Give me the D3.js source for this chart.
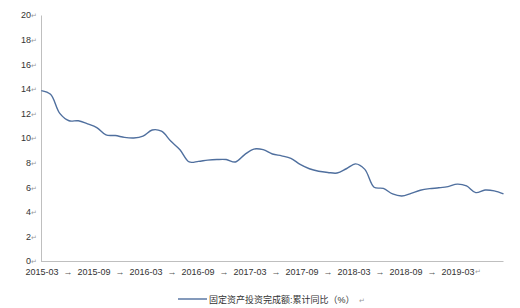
<!DOCTYPE html>
<html>
<head>
<meta charset="utf-8">
<script src="https://cdn.jsdelivr.net/npm/d3@7"></script>
<style>
body { margin: 0; background: #fff; }
text { font-family: "Liberation Sans", Arial, "Noto Sans CJK SC", sans-serif; }
</style>
</head>
<body>
<div id="chart"></div>
<script>
const svgWidth = 520, svgHeight = 308;

// months (Jan is merged into Feb in the source data)
const months = [
  "2015-02","2015-03","2015-04","2015-05","2015-06","2015-07","2015-08","2015-09","2015-10","2015-11","2015-12",
  "2016-02","2016-03","2016-04","2016-05","2016-06","2016-07","2016-08","2016-09","2016-10","2016-11","2016-12",
  "2017-02","2017-03","2017-04","2017-05","2017-06","2017-07","2017-08","2017-09","2017-10","2017-11","2017-12",
  "2018-02","2018-03","2018-04","2018-05","2018-06","2018-07","2018-08","2018-09","2018-10","2018-11","2018-12",
  "2019-02","2019-03","2019-04","2019-05","2019-06","2019-07","2019-08"
];
const growth = [
  13.85, 13.55, 12.0, 11.4, 11.4, 11.15, 10.85, 10.25, 10.2, 10.05, 10.0,
  10.15, 10.65, 10.55, 9.75, 9.05, 8.05, 8.1, 8.2, 8.25, 8.25, 8.05,
  8.65, 9.1, 9.05, 8.7, 8.55, 8.35, 7.85, 7.5, 7.3, 7.2, 7.15,
  7.5, 7.9, 7.45, 6.0, 5.9, 5.45, 5.28, 5.5, 5.75, 5.88, 5.95,
  6.05, 6.25, 6.1, 5.56, 5.77, 5.7, 5.45
];
const yTicks = [0, 2, 4, 6, 8, 10, 12, 14, 16, 18, 20];
const xLabels = ["2015-03","2015-09","2016-03","2016-09","2017-03","2017-09","2018-03","2018-09","2019-03"];
const seriesName = "固定资产投资完成额:累计同比（%）";

const svg = d3.select("#chart").append("svg")
  .attr("width", svgWidth)
  .attr("height", svgHeight);

const x = d3.scalePoint().domain(months).range([41.3, 503.5]);
const y = d3.scaleLinear().domain([0, 20]).range([261, 15]);

// y axis
const yAxis = svg.append("g")
  .attr("transform", "translate(41,0)")
  .call(d3.axisLeft(y).tickValues(yTicks).tickSize(0).tickPadding(11).tickFormat(d => d));
yAxis.select(".domain").attr("stroke", "#bfbfbf");
yAxis.selectAll(".tick text")
  .attr("fill", "#333")
  .attr("font-size", 9)
  .each(function() {
    d3.select(this).append("tspan").attr("fill", "#9a9a9a").attr("font-size", 7).text("↵");
  });
yAxis.selectAll(".tick text").attr("x", -4);

// x axis line
const xAxis = svg.append("g")
  .attr("transform", "translate(0,261)")
  .call(d3.axisBottom(x).tickValues([]).tickSizeOuter(0));
xAxis.select(".domain").attr("stroke", "#bfbfbf").attr("d", "M41,0.5H503.5");

// label row typed under the chart
const lx = d3.scalePoint().domain(xLabels).range([42, 458]);
const step = lx.step();
svg.append("g").selectAll("text.lbl")
  .data(xLabels)
  .join("text")
  .attr("class", "lbl")
  .attr("x", d => lx(d))
  .attr("y", 275)
  .attr("text-anchor", "middle")
  .attr("font-size", 9)
  .attr("fill", "#333")
  .text(d => d);
svg.append("text")
  .attr("x", lx(xLabels[xLabels.length - 1]) + 17)
  .attr("y", 274)
  .attr("font-size", 7)
  .attr("fill", "#9a9a9a")
  .text("↵");
svg.append("g").selectAll("text.arr")
  .data(xLabels.slice(0, -1))
  .join("text")
  .attr("class", "arr")
  .attr("x", d => lx(d) + step / 2)
  .attr("y", 274.5)
  .attr("text-anchor", "middle")
  .attr("font-size", 9)
  .attr("fill", "#555")
  .text("→");

// the series line
const line = d3.line()
  .x((d, i) => x(months[i]))
  .y(d => y(d))
  .curve(d3.curveCatmullRom.alpha(0.5));

svg.append("path")
  .datum(growth)
  .attr("fill", "none")
  .attr("stroke", "#4f6f9e")
  .attr("stroke-width", 1.4)
  .attr("d", line);

// legend
const legend = svg.append("g").attr("transform", "translate(178,299)");
legend.append("line")
  .attr("x1", 0).attr("x2", 29)
  .attr("y1", 0).attr("y2", 0)
  .attr("stroke", "#4f6f9e")
  .attr("stroke-width", 1.4);
legend.append("text")
  .attr("x", 31)
  .attr("y", 3.5)
  .attr("font-size", 9)
  .attr("fill", "#333")
  .text(seriesName)
  .append("tspan")
  .attr("dx", 4)
  .attr("fill", "#9a9a9a")
  .attr("font-size", 7)
  .text("↵");
</script>
</body>
</html>
